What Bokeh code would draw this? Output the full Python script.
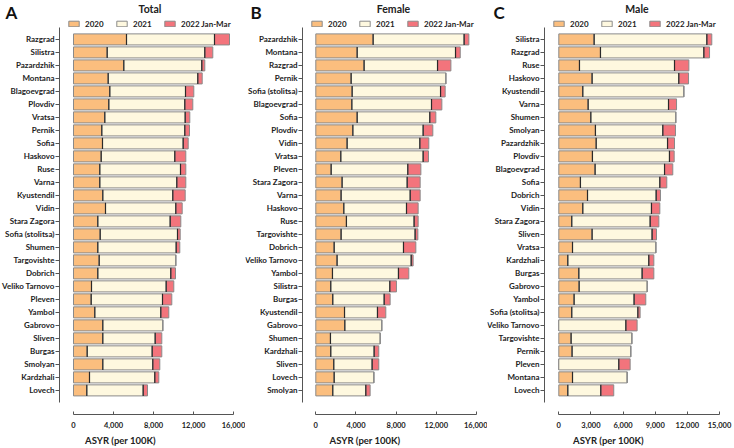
from bokeh.plotting import figure
from bokeh.models import (ColumnDataSource, FixedTicker, NumeralTickFormatter, Label,
                          Range1d, Legend, LegendItem)
from bokeh.layouts import row
from bokeh.embed import file_html
from bokeh.resources import INLINE

# ---------------- data ----------------
series = ["2020", "2021", "2022 Jan-Mar"]

total_names = ["Razgrad", "Silistra", "Pazardzhik", "Montana", "Blagoevgrad", "Plovdiv", "Vratsa",
               "Pernik", "Sofia", "Haskovo", "Ruse", "Varna", "Kyustendil", "Vidin", "Stara Zagora",
               "Sofia (stolitsa)", "Shumen", "Targovishte", "Dobrich", "Veliko Tarnovo", "Pleven",
               "Yambol", "Gabrovo", "Sliven", "Burgas", "Smolyan", "Kardzhali", "Lovech"]
total_2020 = [5300, 3370, 5030, 3470, 3630, 3530, 3130, 2830, 2900, 2770, 2630, 2630, 2930, 3200,
              2430, 2670, 2430, 2570, 2430, 1800, 1770, 2130, 2930, 2930, 1370, 2930, 1600, 1330]
total_2021 = [8800, 9760, 7800, 8960, 7570, 7600, 8040, 8300, 8070, 7360, 8070, 7700, 7000, 7030,
              7240, 7730, 7840, 7660, 7300, 7470, 7130, 6600, 6000, 5240, 6500, 5000, 6530, 5640]
total_2022 = [1500, 800, 300, 440, 830, 800, 460, 470, 500, 1100, 530, 900, 1240, 640,
              1060, 270, 360, 0, 470, 760, 930, 800, 0, 660, 960, 700, 400, 430]

female_names = ["Pazardzhik", "Montana", "Razgrad", "Pernik", "Sofia (stolitsa)", "Blagoevgrad",
                "Sofia", "Plovdiv", "Vidin", "Vratsa", "Pleven", "Stara Zagora", "Varna", "Haskovo",
                "Ruse", "Targovishte", "Dobrich", "Veliko Tarnovo", "Yambol", "Silistra", "Burgas",
                "Kyustendil", "Gabrovo", "Shumen", "Kardzhali", "Sliven", "Lovech", "Smolyan"]
female_2020 = [5710, 4120, 4810, 3520, 3620, 3590, 4120, 3690, 3120, 2490, 1530, 2620, 2520, 2790,
               3050, 2520, 1830, 2120, 1660, 1490, 1690, 2860, 2890, 1460, 1490, 1790, 1830, 1690]
female_2021 = [9060, 9790, 7310, 9430, 8800, 7930, 7230, 7000, 7240, 8200, 7630, 6480, 6880, 6240,
               6740, 7370, 6900, 7380, 6570, 5880, 5120, 3280, 3680, 4950, 4320, 3820, 3950, 3290]
female_2022 = [470, 470, 1330, 0, 460, 1030, 600, 960, 890, 530, 1300, 1290, 990, 1160,
               400, 270, 1230, 190, 1030, 660, 590, 830, 0, 0, 460, 660, 0, 430]

male_names = ["Silistra", "Razgrad", "Ruse", "Haskovo", "Kyustendil", "Varna", "Shumen", "Smolyan",
              "Pazardzhik", "Plovdiv", "Blagoevgrad", "Sofia", "Dobrich", "Vidin", "Stara Zagora",
              "Sliven", "Vratsa", "Kardzhali", "Burgas", "Gabrovo", "Yambol", "Sofia (stolitsa)",
              "Veliko Tarnovo", "Targovishte", "Pernik", "Pleven", "Montana", "Lovech"]
male_2020 = [3300, 3890, 1930, 3110, 2240, 2740, 2990, 3420, 3490, 3140, 3390, 2020, 2680, 2240,
             1210, 3110, 1280, 840, 1870, 1900, 1430, 1210, 0, 1150, 1240, 0, 1280, 840]
male_2021 = [10520, 9650, 8870, 8090, 9430, 7500, 7930, 6290, 6660, 7190, 6480, 7410, 6410, 6410,
             7320, 5600, 7780, 7560, 5910, 6350, 5600, 6170, 6260, 5670, 5480, 5600, 5100, 3080]
male_2022 = [460, 530, 1340, 910, 0, 750, 0, 1180, 650, 440, 770, 650, 400, 780,
             810, 410, 0, 470, 1090, 0, 1090, 210, 1050, 0, 0, 1060, 0, 1210]

ticks_16k = [0, 4000, 8000, 12000, 16000]
ticks_15k = [0, 3000, 6000, 9000, 12000, 15000]

# ---------------- style ----------------
FONT = "Lato"
FILLS = ["#FBBE7E", "#FEF8DF", "#F3747C"]
EDGE = "#8a8a8a"
DARK = "#2a2a2a"
H = 448
BOTTOM = 33
FRAME_H = H - BOTTOM
BAR_H = 0.85
Y0, Y1 = -1.856, 29.993


def panel(letter, title, names, v20, v21, v22, xticks, width, axis_px, zero_px, unit_px,
          right=5, letter_x=5):
    """axis_px: canvas x of the y axis line, zero_px: canvas x of value 0, unit_px: value per px"""
    n = len(names)
    pos = list(range(n - 1, -1, -1))
    src = ColumnDataSource(dict(pos=pos, a=v20, b=v21, c=v22))
    x0 = -zero_px * unit_px
    x1 = (width - right - zero_px) * unit_px
    axis_x = (axis_px - zero_px) * unit_px
    p = figure(width=width, height=H, output_backend="svg", toolbar_location=None,
               x_range=Range1d(x0, x1), y_range=Range1d(Y0, Y1),
               min_border_left=0, min_border_right=right,
               min_border_top=0, min_border_bottom=BOTTOM)
    rs = p.hbar_stack(["a", "b", "c"], y="pos", height=BAR_H, source=src,
                      fill_color=FILLS, line_color=EDGE, line_width=1)

    bx, by = [], []
    for i in range(n):
        if v20[i] > 0 and v21[i] > 0:
            bx.append(v20[i]); by.append(pos[i])
        if v22[i] > 0:
            bx.append(v20[i] + v21[i]); by.append(pos[i])
    p.segment(x0=bx, x1=bx, y0=[y - BAR_H / 2 for y in by], y1=[y + BAR_H / 2 for y in by],
              line_color=DARK, line_width=1.2)

    legend = Legend(items=[LegendItem(label=s, renderers=[r]) for s, r in zip(series, rs)],
                    orientation="horizontal", location=(axis_px + 8, FRAME_H - 29.5),
                    glyph_width=13, glyph_height=7, label_height=10, label_standoff=5,
                    spacing=10, padding=0, margin=0, border_line_color=None,
                    background_fill_alpha=0,
                    label_text_font=FONT, label_text_font_style="bold",
                    label_text_font_size="8px", label_text_color="#222222")
    p.add_layout(legend)

    p.add_layout(Label(x=(axis_px + width - right) / 2, y=FRAME_H - 9.5,
                       x_units="screen", y_units="screen",
                       text=title, text_align="center", text_baseline="middle",
                       text_font=FONT, text_font_style="bold", text_font_size="10.5px",
                       text_color="#222222"))
    p.add_layout(Label(x=letter_x, y=FRAME_H - 12.5, x_units="screen", y_units="screen",
                       text=letter, text_align="left", text_baseline="middle",
                       text_font=FONT, text_font_style="bold", text_font_size="17px",
                       text_color="#111111"))

    xa = p.xaxis[0]
    xa.ticker = FixedTicker(ticks=xticks)
    xa.formatter = NumeralTickFormatter(format="0,0")
    xa.bounds = (xticks[0], xticks[-1])
    xa.major_tick_in = 3
    xa.major_tick_out = 0
    xa.minor_tick_line_color = None
    xa.axis_line_color = "#555555"
    xa.major_tick_line_color = "#555555"
    xa.major_label_standoff = 7
    xa.major_label_text_font = FONT
    xa.major_label_text_font_style = "bold"
    xa.major_label_text_font_size = "7.5px"
    xa.major_label_text_color = "#222222"
    xa.axis_label = "ASYR (per 100K)"
    xa.axis_label_standoff = 4
    xa.axis_label_text_font = FONT
    xa.axis_label_text_font_style = "bold"
    xa.axis_label_text_font_size = "9.5px"
    xa.axis_label_text_color = "#222222"

    ya = p.yaxis[0]
    ya.fixed_location = axis_x
    ya.ticker = FixedTicker(ticks=pos)
    ya.major_label_overrides = {pp: nm for pp, nm in zip(pos, names)}
    ya.bounds = (-0.897, 27.92)
    ya.major_tick_out = 4
    ya.major_tick_in = 0
    ya.minor_tick_line_color = None
    ya.axis_line_color = "#555555"
    ya.major_tick_line_color = "#555555"
    ya.major_label_standoff = 1
    ya.major_label_text_font = FONT
    ya.major_label_text_font_style = "bold"
    ya.major_label_text_font_size = "8px"
    ya.major_label_text_color = "#222222"

    p.xgrid.visible = False
    p.ygrid.visible = False
    p.outline_line_color = None
    return p


# panel A: page x 0..245, panel B: 245..487, panel C: 487..734
pa = panel("A", "Total", total_names, total_2020, total_2021, total_2022, ticks_16k,
           245, 59, 73, 100.0)
pb = panel("B", "Female", female_names, female_2020, female_2021, female_2022, ticks_16k,
           242, 57, 70.3, 99.56, right=3)
pc = panel("C", "Male", male_names, male_2020, male_2021, male_2022, ticks_15k,
           247, 57, 71.3, 93.34, letter_x=6)

layout = row(pa, pb, pc)
open("out.html", "w").write(file_html(layout, INLINE))
